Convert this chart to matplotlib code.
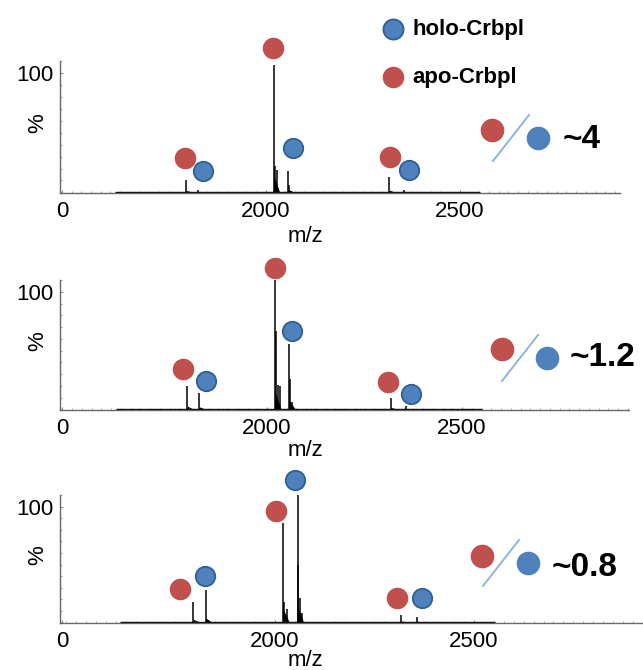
import matplotlib
matplotlib.use("Agg")
import matplotlib.pyplot as plt
from matplotlib.ticker import MultipleLocator, FixedLocator
from matplotlib.lines import Line2D

plt.rcParams['font.family'] = ['Liberation Sans', 'DejaVu Sans']

W, H = 643, 670
APO_C = '#c0504d'
HOLO_C = '#4f81bd'
HOLO_EDGE = '#2f5f93'
SLASH_C = '#8db3e2'

# main peaks (m/z) and which species each is
peak_mz = [1795, 1826, 2021, 2057, 2317, 2357]
peak_species = ['apo', 'holo', 'apo', 'holo', 'apo', 'holo']

# relative intensity (%) of main peaks, one list per spectrum
peak_h_1 = [10, 2, 107, 18, 13, 2]
peak_h_2 = [20, 14, 110, 56, 10, 3]
peak_h_3 = [18, 28, 86, 111, 6, 5]

# adduct / satellite lines next to the main peaks
sat_mz_1 = [2025, 2030, 2061]
sat_h_1 = [22, 19, 6]
sat_mz_2 = [2023, 2028, 2033, 2060, 2063]
sat_h_2 = [67, 21, 20, 26, 6]
sat_mz_3 = [2024, 2030, 2058, 2062, 2067]
sat_h_3 = [18, 12, 50, 21, 8]

# where the species circles sit over each peak
mark_mz_1 = [1792, 1838, 2019, 2070, 2320, 2369]
mark_y_1 = [29, 17.5, 121, 37, 30, 19]
mark_mz_2 = [1784, 1843, 2020, 2064, 2310, 2369]
mark_y_2 = [34, 24, 120, 67, 23, 13]
mark_mz_3 = [1761, 1824, 2003, 2050, 2307, 2370]
mark_y_3 = [29, 40, 96, 123, 21, 21]

ratios = ['~4', '~1.2', '~0.8']
trace_range = [1612, 2552]
tick_labels = ['0', '2000', '2500']

panels = [
    (peak_h_1, sat_mz_1, sat_h_1, mark_mz_1, mark_y_1),
    (peak_h_2, sat_mz_2, sat_h_2, mark_mz_2, mark_y_2),
    (peak_h_3, sat_mz_3, sat_h_3, mark_mz_3, mark_y_3),
]

# layout (pixels of the 643x670 figure)
ax_px = [(60, 61, 620, 193), (60, 280, 629, 410), (60, 495, 643, 623)]
xlims = [(1470, 2913), (1469, 2928), (1460, 2925)]
zero_at = [1475, 1474, 1465]
mz_label_y = [237, 451, 660]
ratio_px = [  # red circle, slash start, slash end, blue circle, text
    ((492, 130), (493, 161), (529, 115), (538, 138), (563, 140)),
    ((502, 349), (502, 381), (538, 335), (547, 358), (570, 358)),
    ((482, 556), (483, 586), (519, 540), (528, 563), (552, 568)),
]


def px(x, y):
    return x / W, 1 - y / H


fig = plt.figure(figsize=(W / 100, H / 100), dpi=100)

for i, (ph, smz, sh, mmz, my) in enumerate(panels):
    l, t, r, b = ax_px[i]
    x0, y0 = px(l, b)
    ax = fig.add_axes([x0, y0, (r - l) / W, (b - t) / H])
    ax.set_xlim(*xlims[i])
    ax.set_ylim(-0.5, 110)

    # spectrum: baseline trace + peak lines with a little tailing
    ax.plot(trace_range, [0.3, 0.3], color='black', lw=1.0, solid_capstyle='butt')
    ax.vlines(peak_mz, 0, ph, color='black', lw=1.1)
    ax.vlines(smz, 0, sh, color='black', lw=1.1)
    for mz, h in zip(peak_mz, ph):
        ax.fill([mz, mz + 2, mz + 16, mz], [0, h * 0.12, 0, 0], color='black', lw=0)

    for mz, y, sp in zip(mmz, my, peak_species):
        if sp == 'apo':
            ax.plot(mz, y, 'o', ms=14.5, color=APO_C, mec=APO_C, clip_on=False, zorder=5)
        else:
            ax.plot(mz, y, 'o', ms=14, color=HOLO_C, mec=HOLO_EDGE, mew=1.3,
                    clip_on=False, zorder=5)

    for s in ['top', 'right']:
        ax.spines[s].set_visible(False)
    for s in ['left', 'bottom']:
        ax.spines[s].set_color('#666666')
        ax.spines[s].set_linewidth(1.0)

    ax.xaxis.set_major_locator(FixedLocator([zero_at[i], 2000, 2500]))
    ax.set_xticklabels(tick_labels)
    ax.xaxis.set_minor_locator(MultipleLocator(25))
    ax.yaxis.set_major_locator(FixedLocator([100]))
    ax.set_yticklabels(['100'])
    ax.yaxis.set_minor_locator(MultipleLocator(10))
    ax.tick_params(which='major', direction='in', length=2, color='#888888',
                   labelsize=16, pad=6)
    ax.tick_params(which='minor', direction='in', length=1.5, color='#999999')
    ax.tick_params(axis='y', pad=5)

    fig.text(*px(305, mz_label_y[i]), 'm/z', fontsize=16, ha='center', va='center')
    yc = (t + b) / 2 - 4
    fig.text(*px(38, yc), '%', fontsize=16, rotation=90, ha='center', va='center')

    # apo / holo ratio glyph
    red, s0, s1, blue, tx = ratio_px[i]
    fig.add_artist(Line2D([px(*s0)[0], px(*s1)[0]], [px(*s0)[1], px(*s1)[1]],
                          color=SLASH_C, lw=1.4))
    fig.add_artist(Line2D([px(*red)[0]], [px(*red)[1]], marker='o', ms=16,
                          color=APO_C, mec=APO_C, ls='none'))
    fig.add_artist(Line2D([px(*blue)[0]], [px(*blue)[1]], marker='o', ms=16,
                          color=HOLO_C, mec=HOLO_C, ls='none'))
    fig.text(*px(*tx), ratios[i], fontsize=24, fontweight='bold', ha='left', va='center')

# legend
fig.add_artist(Line2D([px(393, 29)[0]], [px(393, 29)[1]], marker='o', ms=14.5,
                      color=HOLO_C, mec=HOLO_EDGE, mew=1.3, ls='none'))
fig.add_artist(Line2D([px(393, 77)[0]], [px(393, 77)[1]], marker='o', ms=14.5,
                      color=APO_C, mec=APO_C, ls='none'))
fig.text(*px(412, 30), 'holo-Crbpl', fontsize=16, fontweight='bold', va='center')
fig.text(*px(412, 78), 'apo-Crbpl', fontsize=16, fontweight='bold', va='center')

fig.savefig('out.png', dpi=100)
